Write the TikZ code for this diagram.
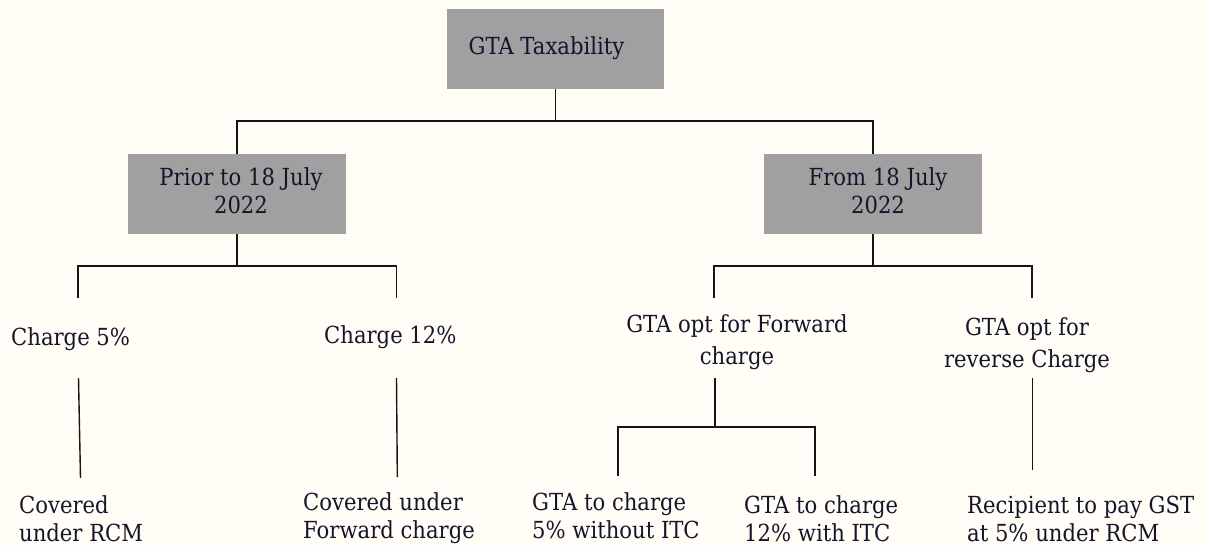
\documentclass[tikz,border=0pt]{standalone}
\usepackage{fontspec}
\setmainfont{DejaVu Serif}[FakeStretch=0.9]
\definecolor{bg}{HTML}{FFFDF5}
\definecolor{boxgray}{HTML}{A0A0A0}
\definecolor{txt}{HTML}{14142A}
\definecolor{linecol}{HTML}{151515}
\begin{document}
\begin{tikzpicture}[x=1pt,y=-1pt,
  box/.style={fill=boxgray, draw=none, inner sep=0pt, minimum width=218pt, minimum height=80pt,
              text=txt, align=center, font=\fontsize{23.5}{28.4}\selectfont},
  lbl/.style={inner sep=0pt, text=txt, align=center, font=\fontsize{23.5}{32}\selectfont},
  leaf/.style={inner sep=0pt, text=txt, align=left, anchor=west, font=\fontsize{23.5}{28.5}\selectfont},
  one/.style={inner sep=0pt, text=txt, anchor=base west, font=\fontsize{23.5}{28.4}\selectfont},
  conn/.style={draw=linecol, line width=1.6pt},
  thin/.style={draw=linecol, line width=1.4pt}]
\useasboundingbox[fill=bg] (0,0) rectangle (1206,545);

% boxes
\node[box, minimum width=217pt] (top) at (555.5,49) {GTA Taxability\strut\hspace*{18pt}};
\node[box] (L) at (237,194) {\hspace*{8pt}Prior to 18 July\strut\\\hspace*{8pt}2022\strut};
\node[box] (R) at (873,194) {\hspace*{10pt}From 18 July\strut\\\hspace*{10pt}2022\strut};

% second level labels
\node[one] (c5) at (11,345) {Charge 5\%};
\node[one] (c12) at (324,343) {Charge 12\%};
\node[lbl] (fwd) at (737,341.6) {GTA opt for Forward\strut\\charge\strut};
\node[lbl] (rev) at (1027,344.6) {GTA opt for\strut\\reverse Charge\strut};

% leaves
\node[leaf] (rcm) at (19,521.6) {Covered\strut\\under RCM\strut};
\node[leaf] (fwc) at (303,518.6) {Covered under\strut\\Forward charge\strut};
\node[leaf] (g5) at (532,518.6) {GTA to charge\strut\\5\% without ITC\strut};
\node[leaf] (g12) at (744,521.6) {GTA to charge\strut\\12\% with ITC\strut};
\node[leaf] (rcp) at (967,521.6) {Recipient to pay GST\strut\\at 5\% under RCM\strut};

% junction coordinates
\coordinate (j0) at (555.5,121);
\coordinate (jL) at (237,266);
\coordinate (jR) at (873,266);
\coordinate (c5top) at (78,298);
\coordinate (c12top) at (396.5,298);
\coordinate (fwdtop) at (714,298);
\coordinate (revtop) at (1032,298);
\coordinate (a1) at (78.5,378);
\coordinate (a2) at (80.5,478);
\coordinate (b1) at (396.5,378);
\coordinate (b2) at (397.3,477);
\coordinate (f1) at (715,378);
\coordinate (jF) at (715,427);
\coordinate (g1) at (618,476);
\coordinate (g2) at (815,476);
\coordinate (r1) at (1032.7,378);
\coordinate (r2) at (1032.7,470);

% connectors
\draw[conn] (top.south) -- (j0);
\draw[conn] (L.north) |- (j0) -| (R.north);
\draw[conn] (L.south) -- (jL);
\draw[conn] (c5top) |- (jL) -| (c12top);
\draw[conn] (R.south) -- (jR);
\draw[conn] (fwdtop) |- (jR) -| (revtop);
\draw[thin] (a1) -- (a2);
\draw[thin] (b1) -- (b2);
\draw[conn] (f1) -- (jF);
\draw[conn] (g1) |- (jF) -| (g2);
\draw[thin] (r1) -- (r2);
\end{tikzpicture}
\end{document}
